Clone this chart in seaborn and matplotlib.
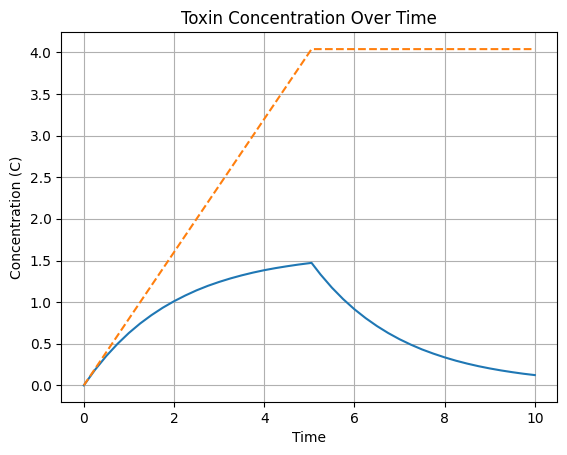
import matplotlib
matplotlib.use("Agg")
import matplotlib.pyplot as plt
import pandas as pd
import seaborn as sns

# values
time_blue = [0, 0.25, 0.5, 0.75, 1.0, 1.25, 1.5, 1.75, 2.0, 2.25, 2.5, 2.75, 3.0,
             3.25, 3.5, 3.75, 4.0, 4.25, 4.5, 4.75, 5.05,
             5.25, 5.5, 5.75, 6.0, 6.25, 6.5, 6.75, 7.0, 7.25, 7.5, 7.75, 8.0,
             8.25, 8.5, 8.75, 9.0, 9.25, 9.5, 9.75, 10.0]
conc_blue = [0.0, 0.188, 0.354, 0.500, 0.630, 0.744, 0.844, 0.933, 1.011, 1.080, 1.142, 1.196, 1.243,
             1.285, 1.322, 1.355, 1.384, 1.409, 1.431, 1.451, 1.472,
             1.332, 1.175, 1.037, 0.915, 0.808, 0.713, 0.629, 0.555, 0.490, 0.432, 0.382, 0.337,
             0.297, 0.262, 0.231, 0.204, 0.180, 0.159, 0.140, 0.124]
time_orange = [0, 5.05, 10.0]
conc_orange = [0.0, 4.04, 4.04]

blue = pd.DataFrame({'t': time_blue, 'c': conc_blue})
orange = pd.DataFrame({'t': time_orange, 'c': conc_orange})

fig, ax = plt.subplots(figsize=(5.67, 4.55), dpi=100)
sns.lineplot(data=blue, x='t', y='c', color='#1f77b4', ax=ax)
sns.lineplot(data=orange, x='t', y='c', color='#ff7f0e', linestyle='--', ax=ax)
ax.grid(True)
ax.set_title('Toxin Concentration Over Time')
ax.set_xlabel('Time')
ax.set_ylabel('Concentration (C)')
fig.subplots_adjust(left=0.108, right=0.983, top=0.929, bottom=0.116)
fig.savefig('out.png', dpi=100)
